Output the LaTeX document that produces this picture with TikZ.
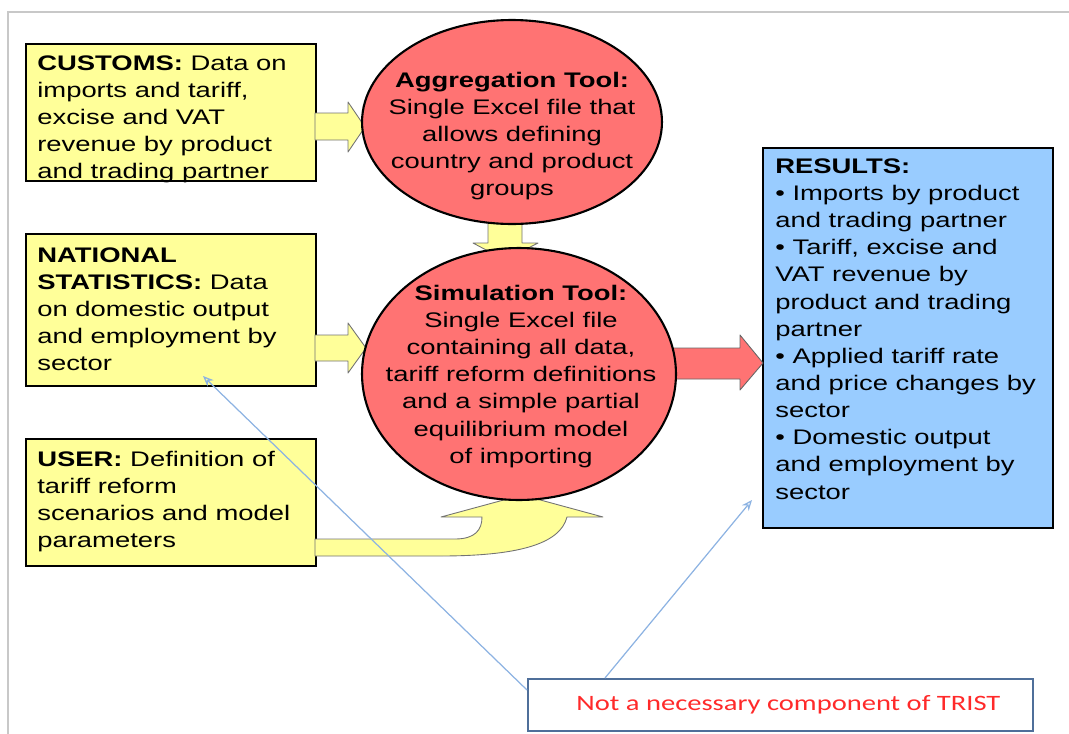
\documentclass[tikz,border=0pt]{standalone}
\usepackage{fontspec}
\setmainfont[FakeStretch=1.3]{Liberation Sans}
\newfontfamily\notefont[FakeStretch=1.3]{Carlito}
\usetikzlibrary{shapes.geometric,arrows.meta}
\definecolor{boxyellow}{HTML}{FFFF99}
\definecolor{ellred}{HTML}{FF7373}
\definecolor{resblue}{HTML}{99CCFF}
\definecolor{noteborder}{HTML}{4F6F9A}
\definecolor{annot}{HTML}{8DB3E2}
\definecolor{notered}{HTML}{FF2A2A}
\definecolor{framegray}{HTML}{C8C8C8}
\newcommand\fs{\fontsize{12}{15.45}\selectfont}
\tikzset{
  ybox/.style={draw=black, line width=1.4pt, fill=boxyellow, inner sep=0pt, anchor=north west},
  rbox/.style={draw=black, line width=1.4pt, fill=resblue, inner sep=0pt, anchor=north west},
  ell/.style={ellipse, draw=black, line width=1.2pt, fill=ellred, inner sep=0pt},
  txt/.style={anchor=north west, inner sep=0pt, align=left, font=\fs},
  ctxt/.style={anchor=north, inner sep=0pt, align=center, font=\fs},
  yarrow/.style={fill=boxyellow, draw=black!55, line width=0.5pt, line join=round},
  rarrow/.style={fill=ellred, draw=black!60, line width=0.5pt, line join=round},
  annotline/.style={draw=annot, line width=0.7pt, -{Stealth[length=6pt,width=5pt,open]}},
}
\begin{document}
\begin{tikzpicture}[x=0.02cm,y=-0.02cm]
\useasboundingbox (0,0) rectangle (1069,734);
% frame
\draw[framegray, line width=1pt] (8,734) -- (8,12) -- (1069,12);

% boxes
\node[ybox, minimum width=5.8cm, minimum height=2.74cm] (customs) at (25,43) {};
\node[ybox, minimum width=5.8cm, minimum height=3.04cm] (natstat) at (25,233) {};
\node[ybox, minimum width=5.8cm, minimum height=2.54cm] (user) at (25,438) {};
\node[rbox, minimum width=5.8cm, minimum height=7.6cm] (results) at (762,147) {};

% block arrows (behind ellipses)
\path[yarrow] (315,113) -- (348,113) -- (348,102) -- (365,127) -- (348,152) -- (348,140) -- (315,140) -- cycle;
\path[yarrow] (315,335) -- (348,335) -- (348,323) -- (366,348) -- (348,373) -- (348,361) -- (315,361) -- cycle;
\path[yarrow] (488,210) -- (522,210) -- (522,243) -- (538,243) -- (505,260) -- (473,243) -- (488,243) -- cycle;
\path[yarrow] (315,539) -- (455,539) .. controls (475,539) and (482,530) .. (482,517) -- (441,517) -- (522,495)
   -- (603,517) -- (567,517) .. controls (560,545) and (515,556) .. (440,556) -- (315,556) -- cycle;
\path[rarrow] (665,348) -- (740,348) -- (740,335) -- (763,363) -- (740,390) -- (740,379) -- (665,379) -- cycle;

% ellipses
\node[ell, minimum width=6cm, minimum height=4.08cm] (agg) at (512,122) {};
\node[ell, minimum width=6.28cm, minimum height=5.04cm] (sim) at (519,374) {};

% texts
\node[txt] (customstext) at (37,51) {\strut\textbf{CUSTOMS:} Data on\\imports and tariff,\\excise and VAT\\revenue by product\\and trading partner};
\node[txt] (nattext) at (37,243) {\strut\textbf{NATIONAL}\\\textbf{STATISTICS:} Data\\on domestic output\\and employment by\\sector};
\node[txt] (usertext) at (37,447) {\strut\textbf{USER:} Definition of\\tariff reform\\scenarios and model\\parameters};
\node[txt] (restext) at (775,154) {\strut\textbf{RESULTS:}\\\textbullet\ Imports by product\\and trading partner\\\textbullet\ Tariff, excise and\\VAT revenue by\\product and trading\\partner\\\textbullet\ Applied tariff rate\\and price changes by\\sector\\\textbullet\ Domestic output\\and employment by\\sector};
\node[ctxt] (aggtext) at (512,68) {\strut\textbf{Aggregation Tool:}\\Single Excel file that\\allows defining\\country and product\\groups};
\node[ctxt] (simtext) at (521,281) {\strut\textbf{Simulation Tool:}\\Single Excel file\\containing all data,\\tariff reform definitions\\and a simple partial\\equilibrium model\\of importing};

% note
\node[draw=noteborder, line width=1.1pt, fill=white, anchor=north west, minimum width=10.1cm, minimum height=1.04cm, inner sep=0pt] (note) at (527,678) {};
\node[font=\notefont\fontsize{12.5}{14}\selectfont, text=notered, inner sep=0pt] (notetext) at ([xshift=0.16cm]note.center) {Not a necessary component of TRIST};

% annotation lines
\coordinate (natpt) at (203,376);
\coordinate (respt) at (752,500);
\draw[annotline] ([yshift=-0.24cm]note.north west) -- (natpt);
\draw[annotline] ([xshift=1.56cm]note.north west) -- (respt);
\end{tikzpicture}
\end{document}
